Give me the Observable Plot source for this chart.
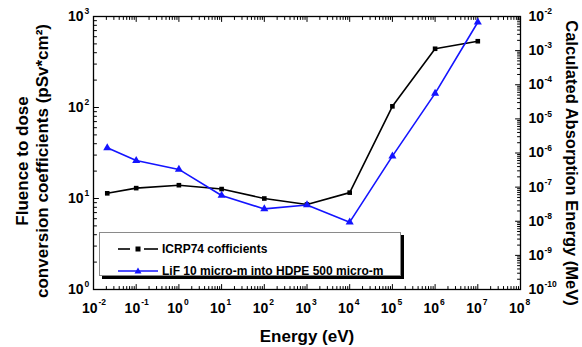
<!DOCTYPE html>
<html><head><meta charset="utf-8">
<script src="https://cdn.jsdelivr.net/npm/d3@7"></script>
<script src="https://cdn.jsdelivr.net/npm/@observablehq/plot@0.6"></script>
<style>
body{margin:0;background:#fff;font-family:"Liberation Sans",Arial,sans-serif}
#wrap{position:relative;width:582px;height:347px}
#legend{position:absolute;left:99px;top:232px;width:302px;height:44px;border:1px solid #8a8a8a;background:#fff;box-shadow:3px 3px 0 #000;box-sizing:border-box}
#legend .row{position:absolute;left:18px;height:16px;display:flex;align-items:center;font-weight:bold;font-size:12px;color:#000;white-space:nowrap}
#legend svg{margin-right:3px}
</style></head><body><div id="wrap"></div>
<script>
// ---- data ----
const energy = [0.021, 0.1, 1, 10, 100, 1000, 1e4, 1e5, 1e6, 1e7];           // eV
const icrp74 = [11.4, 13.0, 14.0, 12.7, 10.0, 8.6, 11.6, 103, 442, 535];      // pSv*cm^2 (left axis)
const lifAbsorption = [1.42e-6, 6.0e-7, 3.3e-7, 5.7e-8, 2.3e-8, 3.0e-8, 9.4e-9, 8.1e-7, 5.6e-5, 6.8e-3]; // MeV (right axis)
const seriesNames = ["ICRP74 cofficients", "LiF 10 micro-m into HDPE 500 micro-m"];
const xTickExponents = [-2, -1, 0, 1, 2, 3, 4, 5, 6, 7, 8];
const yLeftExponents = [0, 1, 2, 3];
const yRightExponents = [-10, -9, -8, -7, -6, -5, -4, -3, -2];
const xTitle = "Energy (eV)";
const yLeftTitle = "Fluence to dose\nconversion coefficients (pSv*cm²)";
const yRightTitle = "Calculated Absorption Energy (MeV)";

// right axis (1e-10 .. 1e-2 MeV) shares the frame with left axis (1 .. 1e3)
const rightToLeft = v => Math.pow(10, (Math.log10(v) + 10) * 3 / 8);

const black = "#000000", blue = "#1414ff";
const rowsA = energy.map((e, i) => ({e, v: icrp74[i]}));
const rowsB = energy.map((e, i) => ({e, v: rightToLeft(lifAbsorption[i])}));

const minor = exps => exps.slice(0, -1).flatMap(p => d3.range(2, 10).map(k => k * Math.pow(10, p)));
const xMajor = xTickExponents.map(p => Math.pow(10, p));
const xMinor = minor(xTickExponents);
const yLMajor = yLeftExponents.map(p => Math.pow(10, p));
const yLMinor = minor(yLeftExponents);
const yRMajor = yRightExponents.map(p => rightToLeft(Math.pow(10, p)));
const yRMinor = minor(yRightExponents).map(rightToLeft);

const tickShape = {draw(ctx, l) { ctx.moveTo(0, 0); ctx.lineTo(0, -l); }};
const ticks = (data, ch, anchor, rotate, len) => Plot.vector(data, {
  [ch]: d => d, frameAnchor: anchor, rotate, length: len, anchor: "start",
  shape: tickShape, stroke: "black", strokeWidth: 1
});
const fontB = {fontWeight: "bold", fill: "black", lineAnchor: "middle"};

const chart = Plot.plot({
  width: 582, height: 347,
  marginTop: 16, marginBottom: 58, marginLeft: 93, marginRight: 62,
  style: {fontFamily: "'Liberation Sans', Arial, sans-serif", background: "white", overflow: "visible"},
  x: {type: "log", domain: [1e-2, 1e8], axis: null},
  y: {type: "log", domain: [1, 1000], axis: null},
  marks: [
    // ticks (inward)
    ticks(xMajor, "x", "bottom", 0, 5), ticks(xMinor, "x", "bottom", 0, 3),
    ticks(xMajor, "x", "top", 180, 5), ticks(xMinor, "x", "top", 180, 3),
    ticks(yLMajor, "y", "left", 90, 5), ticks(yLMinor, "y", "left", 90, 3),
    ticks(yRMajor, "y", "right", -90, 5), ticks(yRMinor, "y", "right", -90, 3),
    // tick labels
    Plot.text(xTickExponents, {x: p => Math.pow(10, p), text: () => "10", frameAnchor: "bottom", dy: 19, dx: 4, textAnchor: "end", fontSize: 14, ...fontB}),
    Plot.text(xTickExponents, {x: p => Math.pow(10, p), text: p => String(p), frameAnchor: "bottom", dy: 13, dx: 5, textAnchor: "start", fontSize: 8.5, ...fontB}),
    Plot.text(yLeftExponents, {y: p => Math.pow(10, p), text: () => "10", frameAnchor: "left", dx: -10, textAnchor: "end", fontSize: 14, ...fontB}),
    Plot.text(yLeftExponents, {y: p => Math.pow(10, p), text: p => String(p), frameAnchor: "left", dx: -9, dy: -5, textAnchor: "start", fontSize: 8.5, ...fontB}),
    Plot.text(yRightExponents, {y: p => rightToLeft(Math.pow(10, p)), text: () => "10", frameAnchor: "right", dx: 8, textAnchor: "start", fontSize: 14, ...fontB}),
    Plot.text(yRightExponents, {y: p => rightToLeft(Math.pow(10, p)), text: p => String(p), frameAnchor: "right", dx: 24, dy: -5, textAnchor: "start", fontSize: 8.5, ...fontB}),
    // axis titles
    Plot.text([xTitle], {frameAnchor: "bottom", dy: 47, textAnchor: "middle", fontSize: 17, ...fontB}),
    Plot.text([yLeftTitle], {frameAnchor: "left", dx: -62, dy: 8, rotate: -90, textAnchor: "middle", fontSize: 17, lineHeight: 1.2, ...fontB}),
    Plot.text([yRightTitle], {frameAnchor: "right", dx: 51, dy: 10, rotate: 90, textAnchor: "middle", fontSize: 16.5, ...fontB}),
    // series
    Plot.line(rowsA, {x: "e", y: "v", stroke: black, strokeWidth: 1.6}),
    Plot.dot(rowsA, {x: "e", y: "v", symbol: "square", r: 2.6, fill: black}),
    Plot.line(rowsB, {x: "e", y: "v", stroke: blue, strokeWidth: 1.6}),
    Plot.dot(rowsB, {x: "e", y: "v", symbol: "triangle", r: 3, fill: blue}),
    Plot.frame({stroke: "black", strokeWidth: 1.3})
  ]
});
const wrap = document.getElementById("wrap");
wrap.appendChild(chart);

// legend
const legend = document.createElement("div");
legend.id = "legend";
legend.innerHTML = `
<div class="row" style="top:8px"><svg width="41" height="10"><line x1="0" y1="5" x2="12" y2="5" stroke="${black}" stroke-width="1.6"/><rect x="17.5" y="2.5" width="5" height="5" fill="${black}"/><line x1="26" y1="5" x2="40" y2="5" stroke="${black}" stroke-width="1.6"/></svg>${seriesNames[0]}</div>
<div class="row" style="top:30px"><svg width="41" height="10"><line x1="0" y1="5" x2="40" y2="5" stroke="${blue}" stroke-width="1.6"/><path d="M20,1.5 L23.5,7.5 L16.5,7.5 Z" fill="${blue}"/></svg>${seriesNames[1]}</div>`;
wrap.appendChild(legend);
</script>
</body></html>
